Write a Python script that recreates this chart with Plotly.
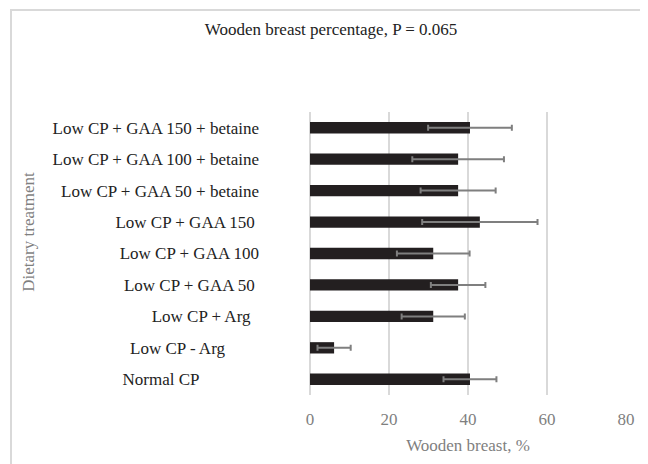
import plotly.graph_objects as go

categories = [
    "Normal CP",
    "Low CP - Arg",
    "Low CP + Arg",
    "Low CP + GAA 50",
    "Low CP + GAA 100",
    "Low CP + GAA 150",
    "Low CP + GAA 50 + betaine",
    "Low CP + GAA 100 + betaine",
    "Low CP + GAA 150 + betaine",
]
pad = [14, 8, 2, 1, 0, 1, 0, 0, 0]
values = [40.5, 6.1, 31.2, 37.5, 31.2, 43.0, 37.5, 37.5, 40.5]
errors = [6.7, 4.2, 8.0, 6.9, 9.2, 14.6, 9.5, 11.6, 10.6]
x_ticks = [0, 20, 40, 60, 80]

OFF = 8  # page body margin
W, H = 648 - OFF, 464 - OFF
ML, MR, MT, MB = 310 - OFF, 22, 112 - OFF, 66

labels = [c + "\u00a0" * p for c, p in zip(categories, pad)]

fig = go.Figure(
    go.Bar(
        y=labels,
        x=values,
        orientation="h",
        width=0.36,
        marker=dict(color="#231f20", line=dict(width=0)),
        error_x=dict(type="data", array=errors, visible=True,
                     color="#7f7f7f", thickness=2, width=3),
    )
)

pw, ph = W - ML - MR, H - MT - MB


def px(x):
    return (x - OFF - ML) / pw


def py(y):
    return (H - MB - (y - OFF)) / ph


serif = "Liberation Serif, Times New Roman, serif"
fig.update_layout(
    width=W, height=H,
    margin=dict(l=ML, r=MR, t=MT, b=MB),
    paper_bgcolor="white", plot_bgcolor="white",
    showlegend=False,
    font=dict(family=serif, size=17, color="#222222"),
    title=dict(text="Wooden breast percentage, P = 0.065", x=(331 - OFF) / W, xanchor="center",
               y=1 - (29 - OFF) / H, yanchor="middle",
               font=dict(family=serif, size=17, color="#222222")),
    xaxis=dict(range=[0, 80], tickvals=x_ticks, showgrid=True, gridcolor="#d9d9d9",
               gridwidth=1.5, zeroline=True, zerolinecolor="#d9d9d9", zerolinewidth=1.5,
               showline=False, ticks="", tickfont=dict(color="#7f7f7f", size=17),
               ticklabelstandoff=12,
               title=dict(text="Wooden breast, %", font=dict(color="#7f7f7f", size=17), standoff=11)),
    yaxis=dict(categoryorder="array", categoryarray=labels, showgrid=False, ticks="",
               showline=False, tickfont=dict(color="#222222", size=17),
               ticklabelstandoff=50),
    annotations=[dict(text="Dietary treatment", textangle=-90, xref="paper", yref="paper",
                      x=px(29), y=py(233),
                      xanchor="center", yanchor="middle", showarrow=False,
                      font=dict(family=serif, size=17, color="#7f7f7f"))],
    shapes=[dict(type="rect", xref="paper", yref="paper",
                 x0=px(11), x1=px(660), y0=py(480), y1=py(9),
                 line=dict(color="#d9d9d9", width=2), layer="below")],
)

fig.write_html("out.html")
